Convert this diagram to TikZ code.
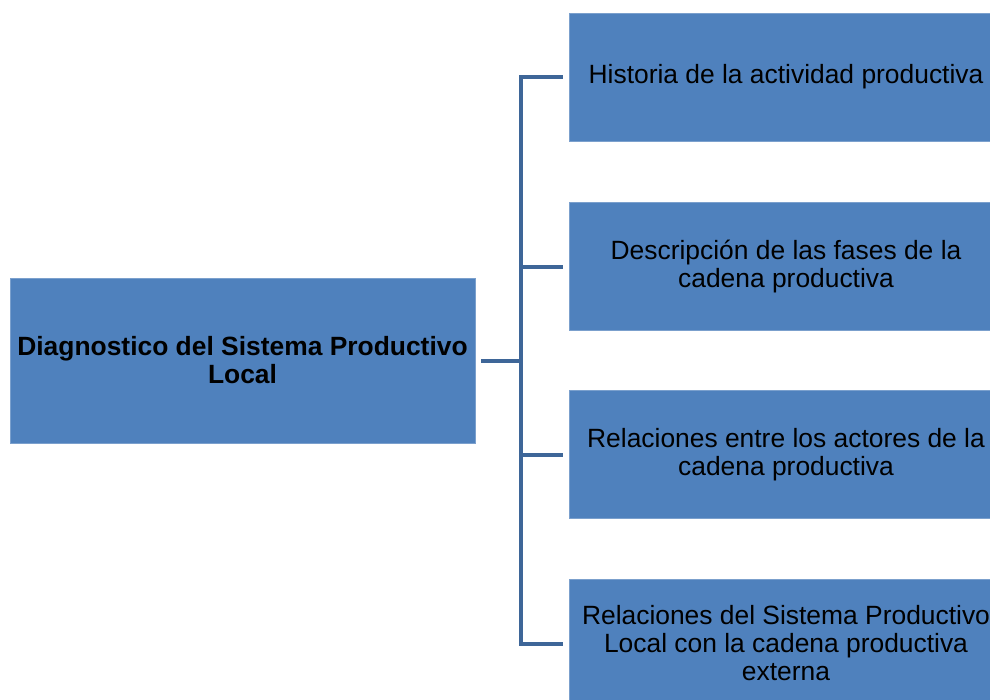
\documentclass[tikz,border=0pt]{standalone}
\usepackage{fontspec}
\setmainfont{Liberation Sans}
\usepackage{tikz}
\usetikzlibrary{positioning}
\definecolor{boxblue}{RGB}{79,129,189}
\definecolor{lineblue}{RGB}{62,102,152}

\begin{document}
\begin{tikzpicture}
    [x=1pt,y=-1pt,every node/.style={rectangle,fill=boxblue,draw=boxblue!75!white,inner sep=0pt,align=center,font=\fontsize{26.4}{28}\selectfont},
     root/.style={minimum width=465pt,minimum height=165pt,font=\fontsize{26.4}{28}\selectfont\bfseries},
     leaf/.style={minimum width=434pt,minimum height=128pt}]
    \useasboundingbox (0,0) rectangle (990,699);
    \clip (0,0) rectangle (990,699);
    \node[root] (diag) at (242.5,360.5) {Diagnostico del Sistema Productivo\\Local};
    \node[leaf] (hist)  at (786,77)    {Historia de la actividad productiva};
    \node[leaf] (fases) at (786,266.5) {Descripción de las fases de la\\cadena productiva};
    \node[leaf] (rel)   at (786,454.5) {Relaciones entre los actores de la\\cadena productiva};
    \node[leaf] (ext)   at (786,643.5) {Relaciones del Sistema Productivo\\Local con la cadena productiva\\externa};
    \foreach \to in {hist,fases,rel,ext}
      \draw [lineblue,line width=4pt,shorten <=6pt,shorten >=6pt] (diag.east) -- ++(46,0) |- (\to.west);
\end{tikzpicture}
\end{document}
